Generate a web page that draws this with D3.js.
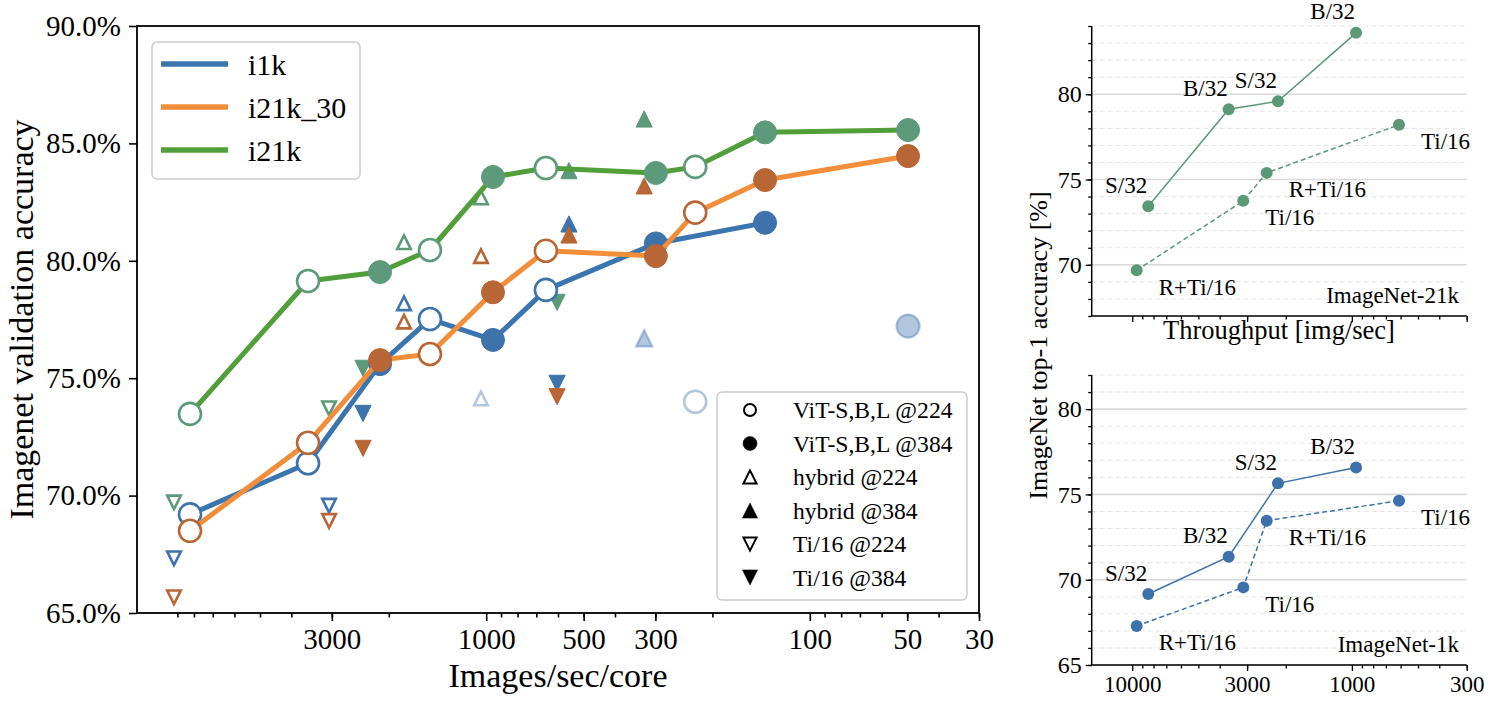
<!DOCTYPE html>
<html><head><meta charset="utf-8">
<script src="https://cdn.jsdelivr.net/npm/d3@7"></script>
<style>
body{margin:0;background:#fff}
svg text{font-family:"Liberation Serif","Times New Roman",serif;fill:#000}
</style>
</head><body>
<svg id="c" width="1500" height="702"></svg>
<script>
// ---------------- DATA (left chart) ----------------
const seriesNames = ["i1k", "i21k_30", "i21k"];
// ViT models: throughput (images/sec/core) and resolution
const vitThroughput = [8230, 3553, 2129, 1492, 953, 654, 299, 226, 137.5, 49.7];
const vitRes        = [224, 224, 384, 224, 384, 224, 384, 224, 384, 384];
const vitI1k        = [69.2, 71.38, 75.6, 77.52, 76.63, 78.76, 80.74, null, 81.62, null];
const vitI1kFaded   = [null, null, null, null, null, null, null, 74.0, null, 77.22];
const vitI21k30     = [68.5, 72.25, 75.77, 76.03, 78.66, 80.43, 80.2, 82.05, 83.44, 84.46];
const vitI21k       = [73.48, 79.14, 79.52, 80.46, 83.57, 83.95, 83.74, 84.0, 85.47, 85.57];
// hybrids
const hybThroughput = [1795, 1038, 555, 325];
const hybRes        = [224, 224, 384, 384];
const hybI1k        = [78.19, null, 81.57, null];
const hybI1kFaded   = [null, 74.14, null, 76.7];
const hybI21k30     = [77.41, 80.2, 81.1, 83.19];
const hybI21k       = [80.79, 82.7, 83.84, 86.04];
// Ti/16
const tiThroughput  = [9223, 3060, 2403, 604];
const tiRes         = [224, 224, 384, 384];
const tiI1k         = [67.33, 69.57, 73.5, 74.78];
const tiI21k30      = [65.67, 68.92, 72.01, 74.21];
const tiI21k        = [69.71, 73.72, 75.42, 78.23];
const leftXTicks = [3000, 1000, 500, 300, 100, 50, 30];
const leftYTicks = [65, 70, 75, 80, 85, 90];
const legend2Labels = ["ViT-S,B,L @224", "ViT-S,B,L @384", "hybrid @224", "hybrid @384", "Ti/16 @224", "Ti/16 @384"];

// ---------------- DATA (right charts) ----------------
const rThroughputSolid  = [8455, 3639, 2170, 957];
const rLabelsSolid      = ["S/32", "B/32", "S/32", "B/32"];
const rThroughputDashed = [9546, 3122, 2442, 610];
const rLabelsDashed     = ["R+Ti/16", "Ti/16", "R+Ti/16", "Ti/16"];
const in21kSolid  = [73.43, 79.12, 79.59, 83.6];
const in21kDashed = [69.68, 73.75, 75.39, 78.21];
const in1kSolid   = [69.16, 71.35, 75.65, 76.58];
const in1kDashed  = [67.29, 69.55, 73.46, 74.63];
const rightXTicks = [10000, 3000, 1000, 300];
const rightYTicksTop = [70, 75, 80];
const rightYTicksBottom = [65, 70, 75, 80];

// ---------------- STYLE ----------------
const lineCol   = {"i1k": "#3b75af", "i21k_30": "#f28e3a", "i21k": "#529e3a"};
const markCol   = {"i1k": "#3e72aa", "i21k_30": "#b96637", "i21k": "#5c9a7b"};
const svg = d3.select("#c");
const FONT_TICK = 29;

const xL = d3.scaleLog().domain([12000, 30]).range([137, 979]);
const yL = d3.scaleLinear().domain([65, 90]).range([613, 26]);

function minorTicks(lo, hi) {
  const out = [];
  for (let dec = 1; dec <= 100000; dec *= 10)
    for (let m = 2; m <= 9; m++) { const v = m * dec; if (v >= lo && v <= hi) out.push(v); }
  return out;
}
function triPath(s, down) {
  return down ? `M0,${s}L${-s},${-s}L${s},${-s}Z` : `M0,${-s}L${-s},${s}L${s},${s}Z`;
}

// ---------------- LEFT CHART ----------------
const gL = svg.append("g");
const xMinor = gL.append("g").attr("transform", "translate(0,613)")
  .call(d3.axisBottom(xL).tickValues(minorTicks(30, 12000)).tickFormat("").tickSize(4.5));
const xMajor = gL.append("g").attr("transform", "translate(0,613)")
  .call(d3.axisBottom(xL).tickValues(leftXTicks).tickFormat(d3.format("d")).tickSize(8).tickPadding(7));
const yAx = gL.append("g").attr("transform", "translate(137,0)")
  .call(d3.axisLeft(yL).tickValues(leftYTicks).tickFormat(d => d.toFixed(1) + "%").tickSize(8).tickPadding(8));
[xMinor, xMajor, yAx].forEach(a => {
  a.select(".domain").remove();
  a.selectAll("line").attr("stroke", "#000").attr("stroke-width", 1.6);
  a.selectAll("text").style("font-size", FONT_TICK + "px").style("font-family", "Liberation Serif");
});
gL.append("rect").attr("x", 137).attr("y", 26).attr("width", 842).attr("height", 587)
  .attr("fill", "none").attr("stroke", "#000").attr("stroke-width", 1.8);

gL.append("text").attr("x", 558).attr("y", 687).attr("text-anchor", "middle")
  .style("font-size", "34px").text("Images/sec/core");
gL.append("text").attr("transform", "translate(33,319.5) rotate(-90)").attr("text-anchor", "middle")
  .style("font-size", "34px").text("Imagenet validation accuracy");

function drawMarker(g, shape, x, y, col, open, alpha) {
  let el;
  if (shape === "circle") {
    el = g.append("circle").attr("cx", x).attr("cy", y).attr("r", open ? 11 : 11.5);
  } else {
    const down = shape === "down";
    el = g.append("path").attr("transform", `translate(${x},${y})`).attr("d", triPath(open ? 6.8 : 8.1, down));
  }
  if (open) el.attr("fill", alpha < 1 ? "none" : "#fff").attr("stroke", col).attr("stroke-width", 2.6);
  else el.attr("fill", col).attr("stroke", col).attr("stroke-width", alpha < 1 ? 2.2 : 1);
  if (alpha < 1) el.attr("fill-opacity", alpha).attr("stroke-opacity", alpha);
}

const triSets = [
  {name: "i1k", hyb: hybI1k, ti: tiI1k},
  {name: "i21k_30", hyb: hybI21k30, ti: tiI21k30},
  {name: "i21k", hyb: hybI21k, ti: tiI21k}
];
const mk = gL.append("g");
triSets.forEach(s => {
  s.hyb.forEach((v, i) => { if (v != null) drawMarker(mk, "up", xL(hybThroughput[i]), yL(v), markCol[s.name], hybRes[i] === 224, 1); });
  s.ti.forEach((v, i) => { if (v != null) drawMarker(mk, "down", xL(tiThroughput[i]), yL(v), markCol[s.name], tiRes[i] === 224, 1); });
});
hybI1kFaded.forEach((v, i) => { if (v != null) drawMarker(mk, "up", xL(hybThroughput[i]), yL(v), markCol["i1k"], hybRes[i] === 224, 0.4); });
vitI1kFaded.forEach((v, i) => { if (v != null) drawMarker(mk, "circle", xL(vitThroughput[i]), yL(v), markCol["i1k"], vitRes[i] === 224, 0.4); });

const lineSets = [
  {name: "i1k", acc: vitI1k},
  {name: "i21k_30", acc: vitI21k30},
  {name: "i21k", acc: vitI21k}
];
const lineGen = d3.line().x(d => xL(d[0])).y(d => yL(d[1]));
lineSets.forEach(s => {
  const pts = vitThroughput.map((t, i) => [t, s.acc[i]]).filter(d => d[1] != null);
  gL.append("path").attr("d", lineGen(pts)).attr("fill", "none")
    .attr("stroke", lineCol[s.name]).attr("stroke-width", 5).attr("stroke-linejoin", "round");
  vitThroughput.forEach((t, i) => {
    if (s.acc[i] != null) drawMarker(gL, "circle", xL(t), yL(s.acc[i]), markCol[s.name], vitRes[i] === 224, 1);
  });
});

// legend 1
const lg1 = gL.append("g");
lg1.append("rect").attr("x", 152).attr("y", 42).attr("width", 208).attr("height", 137).attr("rx", 5)
  .attr("fill", "#fff").attr("fill-opacity", 0.85).attr("stroke", "#cccccc").attr("stroke-width", 1.5);
seriesNames.forEach((n, i) => {
  const y = 64 + i * 43;
  lg1.append("line").attr("x1", 161).attr("x2", 228).attr("y1", y).attr("y2", y)
    .attr("stroke", lineCol[n]).attr("stroke-width", 5.5);
  lg1.append("text").attr("x", 248).attr("y", y + 10.5).style("font-size", "30px").text(n);
});

// legend 2
const lg2 = gL.append("g");
lg2.append("rect").attr("x", 717).attr("y", 392).attr("width", 250).attr("height", 208).attr("rx", 5)
  .attr("fill", "#fff").attr("fill-opacity", 0.85).attr("stroke", "#cccccc").attr("stroke-width", 1.5);
const lg2Shapes = ["circle", "circle", "up", "up", "down", "down"];
legend2Labels.forEach((lab, i) => {
  const y = 410 + i * 33.5;
  const open = i % 2 === 0;
  if (lg2Shapes[i] === "circle") {
    lg2.append("circle").attr("cx", 750).attr("cy", y).attr("r", open ? 6 : 7)
      .attr("fill", open ? "#fff" : "#000").attr("stroke", "#000").attr("stroke-width", open ? 2 : 0.5);
  } else {
    lg2.append("path").attr("transform", `translate(750,${y})`).attr("d", triPath(open ? 6.6 : 7.6, lg2Shapes[i] === "down"))
      .attr("fill", open ? "#fff" : "#000").attr("stroke", "#000").attr("stroke-width", open ? 2 : 0.5);
  }
  lg2.append("text").attr("x", 793).attr("y", y + 8).style("font-size", "23.6px").text(lab);
});

// ---------------- RIGHT CHARTS ----------------
const xR = d3.scaleLog().domain([15300, 300]).range([1091.7, 1466.7]);
function rightPanel(top, bottom, yDomain, majorY, solidAcc, dashedAcc, col, tag, showXLabels) {
  const y = d3.scaleLinear().domain(yDomain).range([bottom, top]);
  const g = svg.append("g");
  for (let v = yDomain[0]; v <= yDomain[1]; v++) {
    const isMajor = majorY.includes(v);
    g.append("line").attr("x1", 1091.7).attr("x2", 1466.7).attr("y1", y(v)).attr("y2", y(v))
      .attr("stroke", isMajor ? "#d9d9d9" : "#e6e6e6").attr("stroke-width", isMajor ? 1.6 : 1.1)
      .attr("stroke-dasharray", isMajor ? null : "5,3");
  }
  const yMin = g.append("g").attr("transform", "translate(1091.7,0)")
    .call(d3.axisLeft(y).tickValues(d3.range(yDomain[0], yDomain[1] + 1)).tickFormat("").tickSize(3.5));
  const yMaj = g.append("g").attr("transform", "translate(1091.7,0)")
    .call(d3.axisLeft(y).tickValues(majorY).tickFormat(d3.format("d")).tickSize(6).tickPadding(4));
  const xMin = g.append("g").attr("transform", `translate(0,${bottom})`)
    .call(d3.axisBottom(xR).tickValues(minorTicks(300, 15300)).tickFormat("").tickSize(3.5));
  const xMaj = g.append("g").attr("transform", `translate(0,${bottom})`)
    .call(d3.axisBottom(xR).tickValues(rightXTicks).tickFormat(showXLabels ? d3.format("d") : "").tickSize(6).tickPadding(5));
  [yMin, yMaj, xMin, xMaj].forEach(a => {
    a.select(".domain").remove();
    a.selectAll("line").attr("stroke", "#000").attr("stroke-width", 1.3);
  });
  yMaj.selectAll("text").style("font-size", "24px").style("font-family", "Liberation Serif");
  xMaj.selectAll("text").style("font-size", "23px").style("font-family", "Liberation Serif");
  g.append("line").attr("x1", 1091.7).attr("x2", 1091.7).attr("y1", top).attr("y2", bottom).attr("stroke", "#000").attr("stroke-width", 1.5);
  g.append("line").attr("x1", 1091.7).attr("x2", 1466.7).attr("y1", bottom).attr("y2", bottom).attr("stroke", "#000").attr("stroke-width", 1.5);

  const ln = d3.line().x(d => xR(d[0])).y(d => y(d[1]));
  const solidPts = rThroughputSolid.map((t, i) => [t, solidAcc[i]]);
  const dashPts = rThroughputDashed.map((t, i) => [t, dashedAcc[i]]);
  g.append("path").attr("d", ln(solidPts)).attr("fill", "none").attr("stroke", col).attr("stroke-width", 1.5);
  g.append("path").attr("d", ln(dashPts)).attr("fill", "none").attr("stroke", col).attr("stroke-width", 1.5).attr("stroke-dasharray", "5,3");
  solidPts.concat(dashPts).forEach(p => g.append("circle").attr("cx", xR(p[0])).attr("cy", y(p[1])).attr("r", 6).attr("fill", col));
  solidPts.forEach((p, i) => g.append("text").attr("x", xR(p[0]) - 1).attr("y", y(p[1]) - 13.5)
    .attr("text-anchor", "end").style("font-size", "23px").text(rLabelsSolid[i]));
  dashPts.forEach((p, i) => g.append("text").attr("x", xR(p[0]) + 22).attr("y", y(p[1]) + 24.5)
    .style("font-size", "23px").text(rLabelsDashed[i]));
  g.append("text").attr("x", 1459).attr("y", bottom - 13).attr("text-anchor", "end").style("font-size", "23px").text(tag);
  return g;
}
rightPanel(26, 316, [67, 84], rightYTicksTop, in21kSolid, in21kDashed, "#5b9878", "ImageNet-21k", false);
rightPanel(375, 665, [65, 82], rightYTicksBottom, in1kSolid, in1kDashed, "#3e71ab", "ImageNet-1k", true);
svg.append("text").attr("x", 1279).attr("y", 339).attr("text-anchor", "middle").style("font-size", "26.5px").text("Throughput [img/sec]");
svg.append("text").attr("transform", "translate(1047,345.5) rotate(-90)").attr("text-anchor", "middle")
  .style("font-size", "26px").text("ImageNet top-1 accuracy [%]");
</script>
</body></html>
